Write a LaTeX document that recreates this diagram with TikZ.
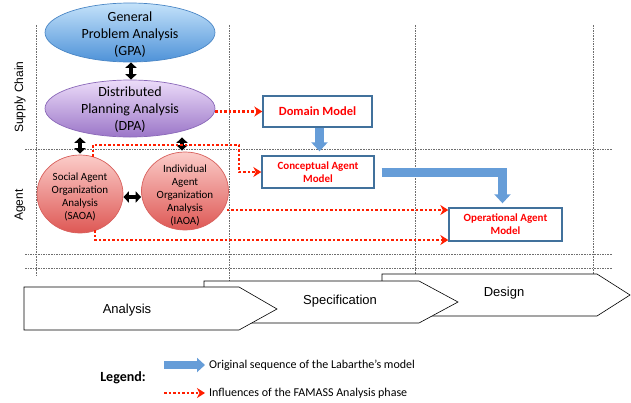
\documentclass[tikz,border=0pt]{standalone}
\usepackage{fontspec}
\setmainfont{Carlito}
\newfontfamily\arialf{Liberation Sans}
\usetikzlibrary{shapes.geometric,arrows.meta,calc}
\definecolor{gridc}{RGB}{110,110,110}
\definecolor{boxc}{RGB}{65,113,156}
\definecolor{seqc}{RGB}{102,157,216}
\definecolor{inflc}{RGB}{255,30,0}
\definecolor{gpatop}{RGB}{196,226,250}
\definecolor{gpabot}{RGB}{78,146,216}
\definecolor{gpaline}{RGB}{74,134,197}
\definecolor{dpatop}{RGB}{236,220,249}
\definecolor{dpabot}{RGB}{155,118,200}
\definecolor{dpaline}{RGB}{138,104,184}
\definecolor{ctop}{RGB}{251,204,201}
\definecolor{cmid}{RGB}{243,160,156}
\definecolor{cbot}{RGB}{222,88,84}
\definecolor{cline}{RGB}{216,96,92}
\begin{document}
\begin{tikzpicture}[x=1pt,y=-1pt,
  gridline/.style={draw=gridc,line width=0.8pt,dash pattern=on 1.6pt off 1pt},
  phase/.style={draw=black,line width=0.6pt,fill=white,line join=miter},
  phaselabel/.style={font=\arialf\fontsize{13}{15}\selectfont},
  sidelabel/.style={font=\arialf\fontsize{12}{14}\selectfont,rotate=90},
  bigell/.style={ellipse,inner sep=0pt,line width=0.7pt,minimum width=170pt},
  bigtext/.style={align=center,inner sep=0pt,font=\fontsize{14}{17}\selectfont},
  agentell/.style={ellipse,inner sep=0pt,line width=0.7pt,draw=cline,
    top color=ctop,middle color=cmid,bottom color=cbot},
  agenttext/.style={align=center,inner sep=0pt,font=\fontsize{11}{13.2}\selectfont},
  modelbox/.style={rectangle,draw=boxc,line width=1.4pt,fill=white,align=center,
    text=red,inner sep=0pt},
  dbl/.style={line width=3.6pt,{Triangle[width=11pt,length=5.5pt]}-{Triangle[width=11pt,length=5.5pt]}},
  infl/.style={draw=inflc,line width=2.8pt,dash pattern=on 2.6pt off 1.9pt,
    -{Stealth[length=8pt,width=10pt,inset=2.5pt]}},
  seq/.style={draw=seqc,line width=9pt,line join=miter,
    -{Triangle[width=16pt,length=9pt]}},
  seqleg/.style={draw=seqc,line width=8pt,
    -{Triangle[width=14pt,length=8pt]}}
]
\useasboundingbox (0,0) rectangle (631,402);

% grid
\draw[gridline] (36,25) -- (36,276);
\draw[gridline] (229,25) -- (229,281);
\draw[gridline] (415,25) -- (415,274);
\draw[gridline] (593,25) -- (593,274);
\draw[gridline] (25,149) -- (612,149);
\draw[gridline] (25,254) -- (612,254);
\draw[gridline] (25,268) -- (612,268);

% side labels
\node[sidelabel] (sc) at (20,97) {Supply Chain};
\node[sidelabel] (ag) at (20,205) {Agent};

% phases
\draw[phase] (382,274) -- (597,274) -- (630,295) -- (597,316) -- (382,316) -- cycle;
\draw[phase] (204,281) -- (419,281) -- (458,302) -- (419,323) -- (204,323) -- cycle;
\draw[phase] (24,287) -- (239,287) -- (277,309) -- (239,330) -- (24,330) -- cycle;
\node[phaselabel] (ph1) at (127,310) {Analysis};
\node[phaselabel] (ph2) at (340,301) {Specification};
\node[phaselabel] (ph3) at (504,293) {Design};

% ellipses
\node[bigell,minimum height=59pt,draw=gpaline,top color=gpatop,bottom color=gpabot]
  (gpa) at (130,32.5) {};
\node[bigtext] (gpat) at (130,35) {General\\Problem Analysis\\(GPA)};
\node[bigell,minimum height=57pt,draw=dpaline,top color=dpatop,bottom color=dpabot]
  (dpa) at (130,108.5) {};
\node[bigtext] (dpat) at (130,110) {Distributed\\Planning Analysis\\(DPA)};
\node[agentell,minimum width=86pt,minimum height=78pt] (saoa) at (80,194) {};
\node[agenttext] (saoat) at (80,197) {Social Agent\\Organization\\Analysis\\(SAOA)};
\node[agentell,minimum width=87pt,minimum height=78pt] (iaoa) at (185,191) {};
\node[agenttext] (iaoat) at (185,195.5) {Individual\\Agent\\Organization\\Analysis\\(IAOA)};

% model boxes
\node[modelbox,minimum width=109pt,minimum height=31pt,
  font=\bfseries\fontsize{12.5}{15}\selectfont] (dm) at (317.5,111.5) {Domain Model};
\node[modelbox,minimum width=112pt,minimum height=32pt,
  font=\bfseries\fontsize{11}{13}\selectfont] (cam) at (318,172) {Conceptual Agent\\Model};
\node[modelbox,minimum width=113pt,minimum height=33pt,
  font=\bfseries\fontsize{11}{13}\selectfont] (oam) at (505.5,224.5) {Operational Agent\\Model};

% black double arrows
\draw[dbl] ($(gpa.south)+(1,0)$) -- ($(dpa.north)+(1,0)$);
\draw[dbl,shorten <=1pt] (saoa.north) -- (saoa.north |- dpa.south);
\draw[dbl,shorten <=1pt] ($(iaoa.north)+(-3,0)$) -- ($(iaoa.north |- dpa.south)+(-3,0)$);
\draw[dbl] (saoa.east |- 0,197) -- (iaoa.west |- 0,197);

% blue sequence arrows
\draw[seq,shorten >=4pt] ($(dm.south)+(2,0)$) -- ($(cam.north)+(1.5,0)$);
\coordinate (seqstart) at ($(cam.east)+(7,0.5)$);
\draw[seq,shorten >=4pt] (seqstart) -| ($(oam.north)+(-3,0)$);

% red influence arrows
\draw[infl] (dpa.east |- dm.west) -- (dm.west);
\draw[infl] ($(saoa.north)+(13,2)$) |- (239,145) |- (cam.west);
\draw[infl] ($(iaoa.east |- 0,210)+(-2,0)$) -- (oam.west |- 0,210);
\draw[infl] ($(saoa.south)+(15,-3)$) |- (oam.west |- 0,240);

% legend
\node[font=\bfseries\fontsize{14}{16}\selectfont] (leg) at (123,378) {Legend:};
\node[anchor=west,font=\fontsize{12}{14}\selectfont,inner sep=0pt] (t1) at (209,365)
  {Original sequence of the Labarthe’s model};
\node[anchor=west,font=\fontsize{12}{14}\selectfont,inner sep=0pt] (t2) at (209,393)
  {Influences of the FAMASS Analysis phase};
\draw[seqleg] ($(t1.west)+(-45,0)$) -- ($(t1.west)+(-4,0)$);
\draw[infl] ($(t2.west)+(-45,0)$) -- ($(t2.west)+(-4,0)$);
\end{tikzpicture}
\end{document}
